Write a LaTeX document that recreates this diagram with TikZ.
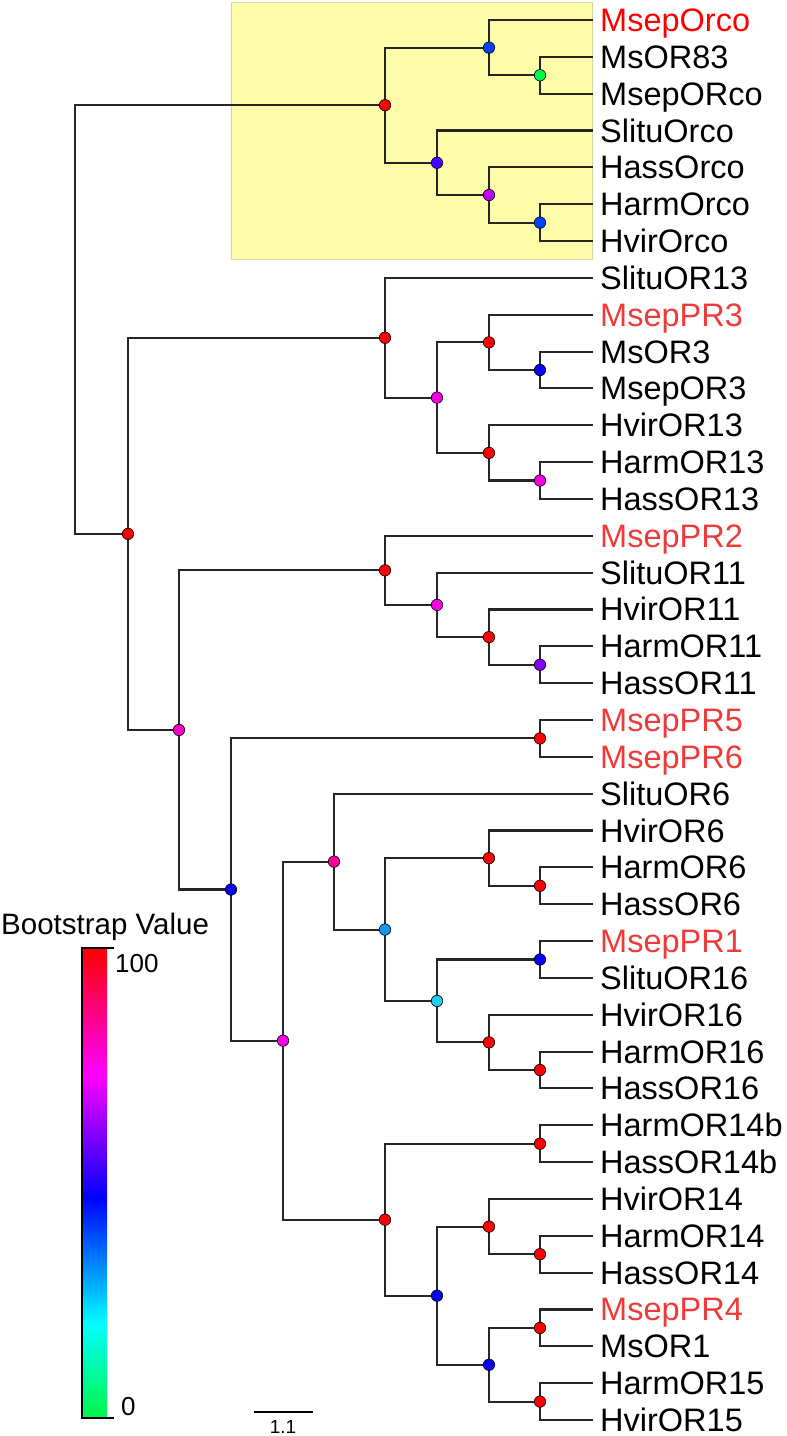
\documentclass[tikz,border=0pt]{standalone}
\usepackage{fontspec}
\setmainfont{Liberation Sans}
\usetikzlibrary{calc}
\pgfdeclarelayer{back}
\pgfdeclarelayer{edges}
\pgfsetlayers{back,edges,main}
\definecolor{tred}{RGB}{255,0,0}
\definecolor{lred}{RGB}{238,58,58}
\definecolor{cRed}{RGB}{255,0,0}
\definecolor{cGreen}{RGB}{0,245,70}
\definecolor{cBlueA}{RGB}{0,64,255}
\definecolor{cBlue}{RGB}{10,0,245}
\definecolor{cViolet}{RGB}{70,0,255}
\definecolor{cViolet2}{RGB}{130,0,255}
\definecolor{cPurple}{RGB}{190,0,255}
\definecolor{cMagenta}{RGB}{245,0,225}
\definecolor{cPinkM}{RGB}{245,0,200}
\definecolor{cDeepPink}{RGB}{245,0,150}
\definecolor{cLightBlue}{RGB}{20,150,240}
\definecolor{cCyan}{RGB}{30,205,235}
\definecolor{boxyellow}{RGB}{255,253,170}
\tikzset{
  branch/.style={line width=2.1pt, draw=black!85, line cap=rect},
  dot/.style={circle, draw=black, line width=0.6pt, minimum size=11.5pt, inner sep=0pt},
  lab/.style={inner sep=0pt, anchor=base west, font=\fontsize{32.5}{36}\selectfont},
}
\newcommand\inode[5]{%
  \path ($(#3)!.5!(#4)$) coordinate (#1m);
  \node[dot,fill=#5] (#1) at (#2,0 |- #1m) {};
  \begin{pgfonlayer}{edges}
    \draw[branch] (#1.center) |- (#3);
    \draw[branch] (#1.center) |- (#4);
  \end{pgfonlayer}
}
\begin{document}
\begin{tikzpicture}[x=1pt,y=-1pt]
\useasboundingbox (0,0) rectangle (787,1436);
\begin{pgfonlayer}{back}
  \fill[boxyellow, draw={rgb,255:red,215;green,215;blue,160}, line width=0.6pt] (231,2) rectangle (592,259);
\end{pgfonlayer}
% leaves
\foreach \t/\c [count=\i] in {MsepOrco/tred, MsOR83/black, MsepORco/black, SlituOrco/black, HassOrco/black, HarmOrco/black, HvirOrco/black, SlituOR13/black, MsepPR3/lred, MsOR3/black, MsepOR3/black, HvirOR13/black, HarmOR13/black, HassOR13/black, MsepPR2/lred, SlituOR11/black, HvirOR11/black, HarmOR11/black, HassOR11/black, MsepPR5/lred, MsepPR6/lred, SlituOR6/black, HvirOR6/black, HarmOR6/black, HassOR6/black, MsepPR1/lred, SlituOR16/black, HvirOR16/black, HarmOR16/black, HassOR16/black, HarmOR14b/black, HassOR14b/black, HvirOR14/black, HarmOR14/black, HassOR14/black, MsepPR4/lred, MsOR1/black, HarmOR15/black, HvirOR15/black}{
  \coordinate (L\i) at (592,{20+(\i-1)*36.8421});
  \node[lab, text=\c] (T\i) at (600,{31.5+(\i-1)*36.8421}) {\t};
}
% Orco clade
\inode{a1}{540}{L2}{L3}{cGreen}
\inode{a2}{489}{L1}{a1}{cBlueA}
\inode{a3}{540}{L6}{L7}{cBlueA}
\inode{a4}{489}{L5}{a3}{cPurple}
\inode{a5}{437}{L4}{a4}{cViolet}
\inode{a6}{385}{a2}{a5}{cRed}
% OR13 clade
\inode{b1}{540}{L10}{L11}{cBlue}
\inode{b2}{489}{L9}{b1}{cRed}
\inode{b3}{540}{L13}{L14}{cMagenta}
\inode{b4}{489}{L12}{b3}{cRed}
\inode{b5}{437}{b2}{b4}{cMagenta}
\inode{b6}{385}{L8}{b5}{cRed}
% OR11 clade
\inode{c1}{540}{L18}{L19}{cViolet2}
\inode{c2}{489}{L17}{c1}{cRed}
\inode{c3}{437}{L16}{c2}{cMagenta}
\inode{c4}{385}{L15}{c3}{cRed}
% PR5/PR6
\inode{d1}{540}{L20}{L21}{cRed}
% OR6/OR16
\inode{e1}{540}{L24}{L25}{cRed}
\inode{e2}{489}{L23}{e1}{cRed}
\inode{e3}{540}{L26}{L27}{cBlue}
\inode{e4}{540}{L29}{L30}{cRed}
\inode{e5}{489}{L28}{e4}{cRed}
\inode{e6}{437}{e3}{e5}{cCyan}
\inode{e7}{385}{e2}{e6}{cLightBlue}
\inode{e8}{334}{L22}{e7}{cDeepPink}
% OR14/OR15
\inode{f1}{540}{L31}{L32}{cRed}
\inode{f2}{540}{L34}{L35}{cRed}
\inode{f3}{489}{L33}{f2}{cRed}
\inode{f4}{540}{L36}{L37}{cRed}
\inode{f5}{540}{L38}{L39}{cRed}
\inode{f6}{489}{f4}{f5}{cBlue}
\inode{f7}{437}{f3}{f6}{cBlue}
\inode{f8}{385}{f1}{f7}{cRed}
% backbone
\inode{g1}{283}{e8}{f8}{cMagenta}
\inode{g2}{231}{d1}{g1}{cBlue}
\inode{g3}{179}{c4}{g2}{cPinkM}
\inode{g4}{128}{b6}{g3}{cRed}
\path ($(a6)!.5!(g4)$) coordinate (rootm);
\coordinate (root) at (75,0 |- rootm);
\begin{pgfonlayer}{edges}
  \draw[branch] (root) |- (a6);
  \draw[branch] (root) |- (g4);
\end{pgfonlayer}
% legend
\node[inner sep=0pt, anchor=base west, font=\fontsize{29.5}{32}\selectfont] (legtitle) at (1,934.5) {Bootstrap Value};
\shade[bottom color=cGreen, top color=cyan] (82,1324) rectangle (107,1418);
\shade[bottom color=cyan, top color=blue] (82,1197) rectangle (107,1324.5);
\shade[bottom color=blue, top color=magenta] (82,1075) rectangle (107,1197.5);
\shade[bottom color=magenta, top color=red] (82,948) rectangle (107,1075.5);
\draw[line width=1.8pt, line cap=rect] (113,948) -- (82,948) -- (82,1418) -- (113,1418);
\node[inner sep=0pt, anchor=base west, font=\fontsize{26}{30}\selectfont] (v100) at (115,972) {100};
\node[inner sep=0pt, anchor=base west, font=\fontsize{26}{30}\selectfont] (v0) at (121,1415) {0};
% scale bar
\draw[line width=2pt] (254,1412) -- (313,1412);
\node[inner sep=0pt, anchor=base, font=\fontsize{19}{22}\selectfont] (scale) at (283,1433) {1.1};
\end{tikzpicture}
\end{document}
